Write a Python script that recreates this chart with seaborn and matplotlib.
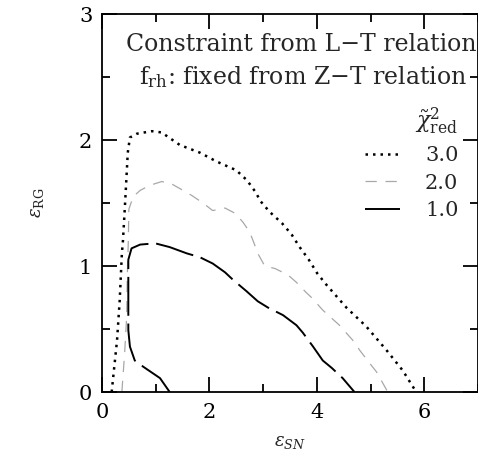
import matplotlib
matplotlib.use("Agg")
import matplotlib.pyplot as plt
from matplotlib.ticker import MultipleLocator
import numpy as np
import pandas as pd
import seaborn as sns

# contour levels of reduced chi^2
levels = ["3.0", "2.0", "1.0"]

eps_sn_30 = [0.18, 0.28, 0.33, 0.37, 0.39, 0.43, 0.48, 0.52, 0.65, 0.93, 1.11, 1.45,
             1.82, 2.13, 2.50, 2.70, 2.87, 2.94, 3.12, 3.35, 3.53, 3.68, 3.85, 4.01,
             4.18, 4.55, 4.92, 5.30, 5.60, 5.85]
eps_rg_30 = [0.00, 0.41, 0.73, 1.10, 1.20, 1.50, 1.90, 2.02, 2.05, 2.07, 2.06, 1.96,
             1.90, 1.83, 1.76, 1.68, 1.58, 1.52, 1.43, 1.34, 1.25, 1.15, 1.05, 0.94,
             0.85, 0.67, 0.52, 0.33, 0.17, 0.00]

eps_sn_20 = [0.37, 0.42, 0.46, 0.47, 0.49, 0.50, 0.58, 0.71, 0.89, 1.11, 1.26, 1.51,
             1.67, 1.88, 2.06, 2.18, 2.29, 2.47, 2.62, 2.75, 2.84, 2.90, 3.03, 3.22,
             3.46, 3.62, 3.80, 3.90, 4.11, 4.42, 4.67, 4.80, 4.98, 5.11, 5.32]
eps_rg_20 = [0.00, 0.30, 0.60, 0.90, 1.20, 1.45, 1.55, 1.60, 1.64, 1.67, 1.66, 1.60,
             1.56, 1.50, 1.44, 1.45, 1.46, 1.42, 1.35, 1.27, 1.17, 1.10, 1.00, 0.98,
             0.93, 0.87, 0.79, 0.75, 0.65, 0.53, 0.41, 0.33, 0.23, 0.16, 0.00]

eps_sn_10 = [1.26, 1.08, 0.77, 0.61, 0.52, 0.49, 0.49, 0.49, 0.49, 0.55, 0.71, 0.99,
             1.26, 1.58, 1.82, 2.06, 2.29, 2.44, 2.69, 2.90, 3.09, 3.37, 3.62, 3.74,
             3.93, 4.11, 4.28, 4.48, 4.70]
eps_rg_10 = [0.00, 0.11, 0.20, 0.25, 0.36, 0.49, 0.60, 0.86, 1.05, 1.14, 1.17, 1.18,
             1.15, 1.10, 1.07, 1.02, 0.95, 0.89, 0.80, 0.72, 0.67, 0.61, 0.53, 0.47,
             0.36, 0.25, 0.19, 0.11, 0.00]

x_ticks = [0, 2, 4, 6]
y_ticks = [0, 1, 2, 3]

df = pd.concat([
    pd.DataFrame({"eps_sn": eps_sn_30, "eps_rg": eps_rg_30, "chi2": "3.0"}),
    pd.DataFrame({"eps_sn": eps_sn_20, "eps_rg": eps_rg_20, "chi2": "2.0"}),
    pd.DataFrame({"eps_sn": eps_sn_10, "eps_rg": eps_rg_10, "chi2": "1.0"}),
], ignore_index=True)

sns.set_theme(style="ticks", font="DejaVu Serif")
plt.rcParams["mathtext.fontset"] = "dejavuserif"

FS = 15
NOTE_FS = 17

fig = plt.figure(figsize=(4.78, 4.59), dpi=100)
ax = fig.add_axes([102 / 478, 1 - 392 / 459, 376 / 478, 378 / 459])

sns.lineplot(
    data=df, x="eps_sn", y="eps_rg",
    hue="chi2", style="chi2", size="chi2",
    hue_order=levels, style_order=levels, size_order=levels,
    palette={"3.0": "black", "2.0": "#a8a8a8", "1.0": "black"},
    dashes={"3.0": (1, 2), "2.0": (9, 7), "1.0": (20, 4)},
    sizes={"3.0": 1.8, "2.0": 0.9, "1.0": 1.4},
    sort=False, estimator=None, legend=False, ax=ax,
)

ax.set_xlim(0, 7)
ax.set_ylim(0, 3)
ax.set_xticks(x_ticks)
ax.set_yticks(y_ticks)
ax.xaxis.set_minor_locator(MultipleLocator(1))
ax.yaxis.set_minor_locator(MultipleLocator(0.5))
ax.tick_params(which="both", direction="in", top=True, right=True,
               width=1.3, labelsize=FS, colors="black")
ax.tick_params(which="major", length=10.5)
ax.tick_params(axis="x", which="major", pad=8)
ax.tick_params(axis="y", which="major", pad=7)
ax.tick_params(which="minor", length=5.5)
for sp in ax.spines.values():
    sp.set_visible(True)
    sp.set_linewidth(1.3)
    sp.set_color("black")

ax.set_xlabel(r"$\epsilon_{SN}$", fontsize=13, labelpad=8)
ax.set_ylabel(r"$\epsilon_{\rm RG}$", fontsize=13, labelpad=24)

ax.text(0.997, 0.918, "Constraint from L\u2212T relation", transform=ax.transAxes,
        ha="right", va="center", fontsize=NOTE_FS)
ax.text(0.973, 0.833, "f$_{\\rm rh}$: fixed from Z\u2212T relation",
        transform=ax.transAxes, ha="right", va="center", fontsize=NOTE_FS)

leg = ax.legend(
    ax.lines[:3], levels, title=r"$\tilde{\chi}^2_{\rm red}$",
    loc="upper right", bbox_to_anchor=(0.976, 0.785), borderpad=0,
    frameon=False, fontsize=FS, title_fontsize=FS + 1,
    handlelength=1.7, handletextpad=1.2, labelspacing=0.42,
    alignment="right",
)

fig.savefig("out.png", dpi=100)
